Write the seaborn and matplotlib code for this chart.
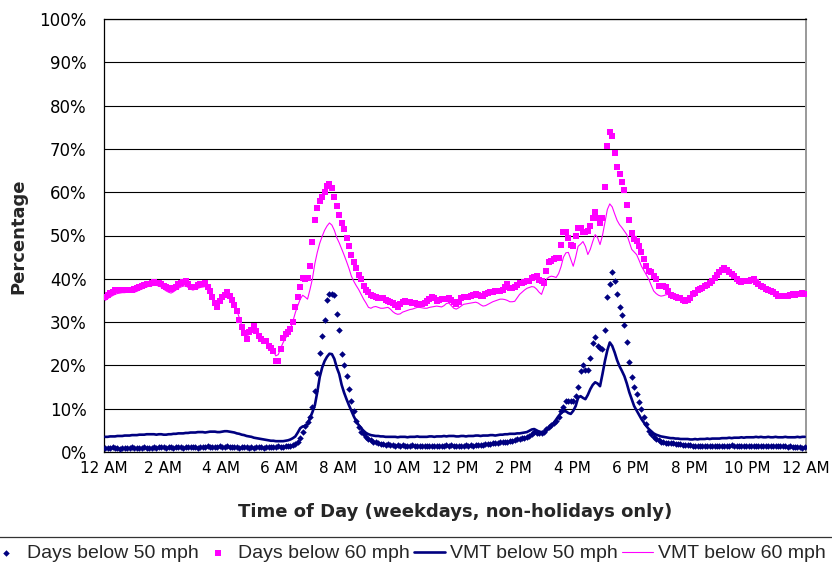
import numpy as np
import pandas as pd
import matplotlib
matplotlib.use("Agg")
import matplotlib.pyplot as plt
import seaborn as sns

# ---- data: 5-minute intervals, 288 per series (12 per hour) ----
days_below_50 = [
    1.0, 0.9, 1.0, 1.1, 0.9, 1.0, 0.8, 0.9, 1.0, 0.9, 1.0, 1.1,
    1.0, 0.9, 1.0, 1.0, 1.1, 1.0, 0.9, 1.0, 1.1, 1.0, 1.2, 1.1,
    1.1, 1.0, 1.2, 1.1, 1.0, 1.1, 1.2, 1.1, 1.0, 1.1, 1.2, 1.1,
    1.2, 1.1, 1.0, 1.2, 1.1, 1.2, 1.3, 1.1, 1.2, 1.1, 1.2, 1.3,
    1.2, 1.1, 1.3, 1.2, 1.1, 1.2, 1.1, 1.0, 1.1, 1.2, 1.1, 1.0,
    1.1, 1.0, 1.1, 1.2, 1.1, 1.0, 1.1, 1.2, 1.1, 1.1, 1.2, 1.3,
    1.2, 1.2, 1.3, 1.3, 1.4, 1.6, 1.9, 2.3, 3.2, 4.6, 6.0, 7.0,
    8.1, 10.4, 14.1, 18.2, 22.8, 26.7, 30.6, 35.0, 36.4, 36.6, 36.2, 31.8,
    28.1, 22.6, 20.0, 17.5, 14.5, 11.8, 9.4, 7.1, 5.8, 4.6, 4.1, 3.5,
    3.0, 2.7, 2.4, 2.3, 2.1, 1.9, 1.8, 1.7, 1.8, 1.6, 1.7, 1.5,
    1.6, 1.5, 1.6, 1.5, 1.4, 1.5, 1.6, 1.5, 1.4, 1.5, 1.4, 1.3,
    1.4, 1.5, 1.4, 1.3, 1.4, 1.5, 1.4, 1.5, 1.6, 1.5, 1.6, 1.5,
    1.4, 1.5, 1.4, 1.5, 1.6, 1.5, 1.6, 1.5, 1.6, 1.7, 1.6, 1.7,
    1.8, 1.9, 1.8, 2.0, 2.1, 2.0, 2.2, 2.3, 2.2, 2.4, 2.5, 2.6,
    2.7, 2.9, 3.0, 3.2, 3.3, 3.5, 3.8, 4.2, 4.6, 4.5, 4.3, 4.5,
    4.6, 5.2, 5.8, 6.2, 6.6, 7.1, 8.0, 9.4, 10.5, 11.8, 11.8, 11.7,
    11.8, 12.9, 15.0, 18.7, 20.0, 18.9, 18.9, 21.7, 25.1, 26.5, 24.4, 24.0,
    23.7, 28.1, 35.7, 38.7, 41.5, 39.6, 36.6, 33.4, 31.6, 29.3, 25.3, 20.7,
    17.3, 15.0, 13.4, 11.5, 9.9, 8.1, 6.5, 4.8, 4.1, 3.5, 3.1, 2.8,
    2.3, 2.2, 2.1, 2.1, 2.0, 2.0, 1.9, 1.8, 1.8, 1.7, 1.6, 1.6,
    1.6, 1.5, 1.5, 1.4, 1.5, 1.4, 1.4, 1.5, 1.4, 1.5, 1.4, 1.5,
    1.4, 1.5, 1.5, 1.4, 1.5, 1.6, 1.5, 1.5, 1.4, 1.5, 1.5, 1.4,
    1.5, 1.4, 1.5, 1.4, 1.5, 1.4, 1.4, 1.5, 1.4, 1.5, 1.4, 1.3,
    1.4, 1.3, 1.4, 1.3, 1.2, 1.3, 1.2, 1.1, 1.2, 1.1, 1.0, 1.1,
]

days_below_60 = [
    35.8, 36.3, 36.8, 37.0, 37.3, 37.5, 37.4, 37.5, 37.3, 37.4, 37.5, 37.4,
    37.6, 37.8, 38.0, 38.3, 38.5, 38.7, 38.9, 39.1, 39.2, 39.1, 39.0, 38.7,
    38.3, 38.0, 37.8, 37.6, 37.9, 38.2, 38.7, 39.0, 39.3, 39.4, 38.8, 38.2,
    38.0, 38.2, 38.5, 38.7, 38.9, 39.0, 38.2, 37.1, 35.8, 34.5, 33.6, 34.8,
    35.7, 36.3, 36.9, 36.0, 35.0, 34.0, 32.5, 30.6, 28.8, 27.4, 26.0, 27.6,
    28.2, 29.0, 27.9, 26.7, 26.0, 25.6, 25.6, 24.4, 24.0, 23.3, 21.0, 21.0,
    23.7, 26.3, 27.2, 27.8, 28.3, 30.0, 33.6, 35.8, 38.0, 40.1, 39.9, 40.2,
    42.9, 48.4, 53.5, 56.4, 57.9, 59.0, 60.1, 61.5, 61.8, 61.0, 59.0, 56.7,
    54.8, 53.0, 51.4, 49.5, 47.5, 45.4, 43.8, 42.4, 40.8, 39.9, 38.3, 37.4,
    36.9, 36.3, 36.0, 35.8, 35.6, 35.5, 35.5, 35.0, 34.8, 34.6, 34.3, 34.0,
    33.6, 34.1, 34.6, 34.8, 34.7, 34.6, 34.5, 34.3, 34.1, 34.1, 34.1, 34.4,
    34.8, 35.4, 35.7, 35.5, 34.9, 35.1, 35.3, 35.3, 35.4, 35.6, 35.0, 34.6,
    34.2, 34.6, 35.5, 35.7, 35.7, 35.8, 36.0, 36.2, 36.4, 36.2, 36.0, 36.0,
    36.5, 36.8, 36.9, 37.0, 37.1, 37.1, 37.1, 37.3, 38.2, 38.8, 37.8, 37.8,
    38.0, 38.6, 39.1, 39.1, 39.2, 39.4, 39.6, 40.2, 40.4, 40.6, 39.8, 39.4,
    39.1, 41.7, 43.8, 44.0, 44.5, 44.7, 44.9, 47.7, 50.7, 50.7, 49.5, 47.9,
    47.5, 49.8, 51.8, 51.8, 50.7, 50.7, 51.0, 52.1, 54.1, 55.5, 54.1, 52.8,
    54.1, 61.3, 70.7, 74.0, 73.0, 69.1, 65.9, 64.3, 62.4, 60.4, 57.1, 53.5,
    50.5, 49.1, 48.8, 47.5, 46.1, 44.5, 42.9, 41.7, 41.5, 40.6, 39.9, 38.3,
    38.3, 38.3, 38.0, 37.1, 36.2, 36.0, 35.7, 35.6, 35.5, 35.2, 34.8, 35.0,
    35.5, 36.4, 36.8, 37.4, 37.7, 37.9, 38.3, 38.6, 39.0, 39.4, 40.2, 40.9,
    41.5, 42.0, 42.4, 42.0, 41.5, 41.0, 40.6, 40.0, 39.4, 39.3, 39.4, 39.5,
    39.6, 39.8, 39.9, 39.3, 38.7, 38.3, 38.0, 37.6, 37.3, 37.1, 36.9, 36.5,
    36.1, 36.0, 36.0, 36.0, 36.1, 36.3, 36.4, 36.3, 36.4, 36.5, 36.8, 36.6,
]

vmt_below_50 = [
    3.5, 3.5, 3.6, 3.6, 3.6, 3.7, 3.7, 3.7, 3.8, 3.8, 3.8, 3.9,
    3.9, 3.9, 4.0, 4.0, 4.0, 4.1, 4.1, 4.1, 4.1, 4.0, 4.1, 4.1,
    4.0, 4.0, 4.1, 4.1, 4.2, 4.2, 4.3, 4.3, 4.3, 4.4, 4.4, 4.5,
    4.5, 4.5, 4.6, 4.6, 4.6, 4.5, 4.6, 4.7, 4.7, 4.7, 4.6, 4.6,
    4.7, 4.8, 4.8, 4.7, 4.6, 4.5, 4.3, 4.2, 4.0, 3.9, 3.7, 3.6,
    3.5, 3.3, 3.2, 3.1, 3.0, 2.9, 2.8, 2.7, 2.6, 2.6, 2.5, 2.5,
    2.5, 2.5, 2.6, 2.7, 2.9, 3.2, 3.6, 4.5, 5.5, 5.9, 6.0, 6.4,
    7.8, 9.2, 10.8, 13.8, 17.3, 19.5, 21.0, 22.0, 22.7, 22.6, 21.5, 19.5,
    18.0, 15.5, 13.7, 12.2, 10.8, 9.5, 8.2, 7.1, 6.2, 5.5, 4.9, 4.4,
    4.1, 3.9, 3.8, 3.7, 3.7, 3.6, 3.6, 3.5, 3.5, 3.5, 3.5, 3.5,
    3.4, 3.5, 3.5, 3.5, 3.4, 3.5, 3.5, 3.5, 3.6, 3.5, 3.5, 3.5,
    3.5, 3.6, 3.6, 3.5, 3.6, 3.6, 3.6, 3.7, 3.6, 3.7, 3.7, 3.7,
    3.6, 3.6, 3.7, 3.7, 3.6, 3.7, 3.7, 3.7, 3.8, 3.8, 3.7, 3.8,
    3.8, 3.8, 3.9, 3.9, 3.8, 3.9, 4.0, 4.0, 4.1, 4.1, 4.2, 4.2,
    4.2, 4.3, 4.3, 4.4, 4.5, 4.6, 4.9, 5.2, 5.3, 5.0, 4.7, 4.6,
    4.7, 5.0, 5.5, 6.0, 6.7, 7.5, 8.3, 9.0, 9.4, 9.4, 9.0, 8.8,
    9.5, 10.6, 12.5, 12.9, 12.5, 12.2, 13.2, 14.5, 15.5, 16.1, 15.8, 15.2,
    18.0, 21.0, 23.5, 25.3, 24.5, 23.0, 21.2, 19.8, 18.7, 17.5, 15.8, 13.8,
    12.2, 10.6, 9.6, 8.6, 7.6, 6.8, 6.0, 5.3, 4.8, 4.3, 4.0, 3.8,
    3.6, 3.5, 3.4, 3.3, 3.2, 3.2, 3.1, 3.1, 3.0, 3.0, 3.0, 3.0,
    2.9, 2.9, 3.0, 2.9, 3.0, 3.0, 3.0, 3.1, 3.0, 3.1, 3.1, 3.1,
    3.1, 3.2, 3.2, 3.2, 3.3, 3.2, 3.3, 3.3, 3.3, 3.4, 3.3, 3.4,
    3.4, 3.4, 3.4, 3.5, 3.4, 3.5, 3.4, 3.4, 3.5, 3.4, 3.4, 3.5,
    3.4, 3.4, 3.4, 3.5, 3.4, 3.4, 3.4, 3.4, 3.5, 3.4, 3.5, 3.5,
]

vmt_below_60 = [
    35.0, 35.4, 35.8, 36.1, 36.4, 36.6, 36.7, 36.8, 36.8, 36.9, 37.0, 36.9,
    36.9, 37.1, 37.4, 37.6, 37.9, 38.1, 38.3, 38.4, 38.5, 38.5, 38.3, 38.1,
    37.6, 37.2, 36.9, 36.7, 37.0, 37.4, 37.8, 38.1, 38.3, 38.4, 38.0, 37.6,
    37.4, 37.6, 37.8, 38.0, 38.1, 38.2, 37.6, 36.8, 35.6, 34.5, 33.7, 34.6,
    35.5, 36.2, 36.6, 35.9, 35.0, 34.0, 32.7, 31.0, 29.2, 27.6, 26.6, 27.2,
    27.8, 28.6, 28.2, 27.2, 26.5, 26.0, 25.5, 24.8, 24.3, 23.3, 22.2, 22.5,
    24.0, 25.3, 26.3, 27.2, 28.5, 30.2, 32.2, 33.8, 35.3, 36.2, 35.8, 35.3,
    37.5, 40.0, 43.5, 46.1, 48.2, 49.8, 51.2, 52.2, 52.9, 52.4, 51.2, 49.5,
    48.3, 46.9, 45.5, 44.0, 42.4, 40.6, 39.4, 38.4, 37.5, 36.4, 35.3, 34.4,
    33.4, 33.2, 33.5, 33.6, 33.4, 33.2, 33.2, 33.3, 33.4, 33.0, 32.4, 32.0,
    31.8, 31.9, 32.3, 32.5, 32.7, 32.9, 33.0, 33.2, 33.4, 33.4, 33.3, 33.2,
    33.2, 33.4, 33.5, 33.6, 33.7, 33.6, 33.5, 33.8, 34.3, 34.4, 33.8, 33.2,
    33.0, 33.3, 33.7, 34.1, 34.2, 34.3, 34.4, 34.5, 34.6, 34.4, 34.0, 33.7,
    33.8, 34.1, 34.4, 34.7, 34.9, 35.1, 35.3, 35.3, 35.2, 35.0, 34.7, 34.7,
    34.8, 35.6, 36.4, 36.9, 37.4, 37.8, 38.0, 38.2, 38.1, 37.6, 36.9, 36.4,
    38.0, 39.9, 40.4, 40.6, 40.5, 40.3, 41.2, 42.8, 45.0, 46.0, 46.1, 44.5,
    42.9, 45.0, 47.5, 48.0, 48.6, 47.5, 45.6, 46.8, 48.6, 50.2, 49.5, 47.9,
    50.0, 53.0, 56.0, 57.3, 56.6, 55.0, 53.5, 52.5, 51.8, 51.0, 50.2, 48.5,
    46.8, 46.2, 45.6, 44.3, 42.9, 41.9, 40.9, 39.9, 38.5, 37.2, 36.6, 36.2,
    36.0, 36.1, 36.3, 36.4, 36.2, 35.9, 35.7, 35.6, 35.5, 35.3, 35.0, 34.7,
    35.2, 35.8, 36.3, 37.0, 37.5, 37.8, 38.2, 38.5, 38.9, 39.3, 40.0, 40.7,
    41.3, 41.8, 42.2, 41.9, 41.4, 40.9, 40.5, 39.9, 39.3, 39.2, 39.3, 39.4,
    39.5, 39.7, 39.8, 39.2, 38.6, 38.2, 37.9, 37.5, 37.2, 37.0, 36.8, 36.4,
    36.0, 35.9, 35.9, 35.9, 36.0, 36.2, 36.3, 36.2, 36.3, 36.4, 36.6, 36.5,
]

tick_hours = [0, 2, 4, 6, 8, 10, 12, 14, 16, 18, 20, 22, 24]
tick_labels = ["12 AM", "2 AM", "4 AM", "6 AM", "8 AM", "10 AM", "12 PM",
               "2 PM", "4 PM", "6 PM", "8 PM", "10 PM", "12 AM"]
series_names = ["Days below 50 mph", "Days below 60 mph",
                "VMT below 50 mph", "VMT below 60 mph"]

# category positions (5-minute slots, centred in each slot)
slot = np.arange(len(days_below_60))
hours = (slot + 0.5) / 12.0
df = pd.DataFrame({
    "hour": hours,
    "d50": days_below_50, "d60": days_below_60,
    "v50": vmt_below_50, "v60": vmt_below_60,
})

sns.set_theme(style="white")
plt.rcParams["font.family"] = ["DejaVu Sans"]

NAVY = "#000080"
MAGENTA = "#FF00FF"

fig = plt.figure(figsize=(8.32, 5.67), dpi=100)
ax = fig.add_axes([104 / 832, 1 - 452 / 567, 702 / 832, 433 / 567])

sns.scatterplot(data=df, x="hour", y="d50", ax=ax, marker="D", s=11,
                color=NAVY, edgecolor=NAVY, linewidth=0, label=series_names[0],
                zorder=3)
sns.scatterplot(data=df, x="hour", y="d60", ax=ax, marker="s", s=16,
                color=MAGENTA, edgecolor=MAGENTA, linewidth=0,
                label=series_names[1], zorder=3)
sns.lineplot(data=df, x="hour", y="v50", ax=ax, color=NAVY, linewidth=1.9,
             label=series_names[2], zorder=4)
sns.lineplot(data=df, x="hour", y="v60", ax=ax, color=MAGENTA, linewidth=0.8,
             label=series_names[3], zorder=4)

ax.set_xlim(0, 24)
ax.set_ylim(0, 100)
ax.set_xticks(tick_hours)
ax.set_xticklabels(tick_labels)
ax.set_xticks(np.arange(0, 25, 1), minor=True)
ax.set_yticks(np.arange(0, 101, 10))
ax.set_yticklabels([f"{v}%" for v in range(0, 101, 10)])
ax.tick_params(axis="both", which="both", direction="out", colors="black",
               width=0.8)
ax.tick_params(axis="x", which="major", length=4.5, pad=2, labelsize=11)
ax.tick_params(axis="x", which="minor", length=4.5)
ax.tick_params(axis="y", which="major", length=5, pad=7.5, labelsize=12)
ax.yaxis.grid(True, color="black", linewidth=0.8)
ax.xaxis.grid(False)
ax.set_axisbelow(True)
ax.set_xlabel("")
ax.set_ylabel("")

for side in ["left", "bottom", "top"]:
    ax.spines[side].set_color("black")
    ax.spines[side].set_linewidth(0.9)
ax.spines["right"].set_color("#999999")
ax.spines["right"].set_linewidth(1.4)

fig.text(455 / 832, 1 - 512 / 567, "Time of Day (weekdays, non-holidays only)",
         ha="center", va="center", fontsize=13, fontweight="bold")
fig.text(18 / 832, 1 - 236 / 567, "Percentage", ha="center", va="center",
         rotation=90, fontsize=13, fontweight="bold")

handles, labels = ax.get_legend_handles_labels()
ax.get_legend().remove()
leg = fig.legend(handles, labels, loc="upper left",
                 bbox_to_anchor=(-17 / 832, 1 - 537 / 567), ncol=4,
                 prop={"family": "Liberation Sans", "size": 14},
                 frameon=True, fancybox=False, edgecolor="black",
                 handlelength=1.6, handletextpad=0.25, columnspacing=0.2,
                 borderpad=0.4, borderaxespad=0.0, markerscale=1.0)
leg.get_frame().set_linewidth(0.9)

fig.savefig("out.png", dpi=100)
